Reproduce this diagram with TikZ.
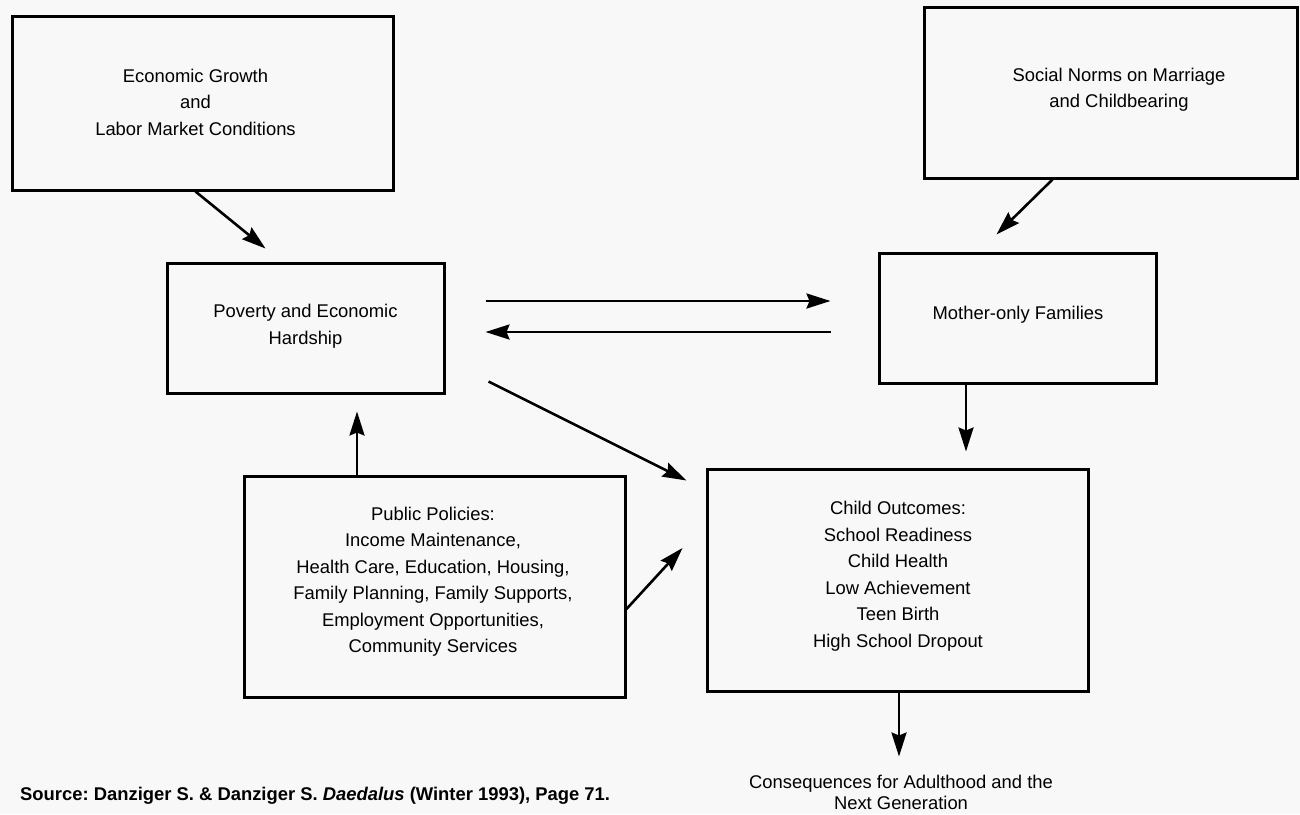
\documentclass[tikz,border=0pt]{standalone}
\usepackage{fontspec}
\setmainfont{Liberation Sans}
\usetikzlibrary{arrows.meta,calc}
\definecolor{pagebg}{RGB}{248,248,248}
\frenchspacing
\begin{document}
\begin{tikzpicture}[x=1pt,y=-1pt,
  box/.style={draw, line width=3pt, inner sep=0pt},
  txt/.style={align=center, inner sep=0pt, font=\fontsize{18.4}{26.5}\selectfont},
  arr/.style={line width=2.6pt, -{Stealth[length=24pt,width=15pt,inset=3pt]}}]
\fill[pagebg] (0,0) rectangle (1300,814);
\useasboundingbox (0,0) rectangle (1300,814);

% boxes
\node[box, minimum width=381pt, minimum height=174pt] (eg)    at (202.5,103) {};
\node[box, minimum width=277pt, minimum height=130pt] (pov)   at (305.5,328) {};
\node[box, minimum width=373pt, minimum height=171pt] (soc)   at (1110.5,92.5) {};
\node[box, minimum width=277pt, minimum height=130pt] (mom)   at (1017.5,318) {};
\node[box, minimum width=381pt, minimum height=221pt] (pol)   at (434.5,586.5) {};
\node[box, minimum width=381pt, minimum height=222pt] (child) at (897.5,580) {};

% texts
\node[txt] (egt)  at (195.5,102) {Economic Growth\\and\\Labor Market Conditions};
\node[txt] (povt) at (305.5,326) {Poverty and Economic\\Hardship};
\node[txt] (soct) at (1119,89.5) {Social Norms on Marriage\\and Childbearing};
\node[txt] (momt) at (1018,315) {Mother-only Families};
\node[txt] (polt) at (433,581.5) {Public Policies:\\Income Maintenance,\\Health Care, Education, Housing,\\Family Planning, Family Supports,\\Employment Opportunities,\\Community Services};
\node[txt] (childt) at (898,576) {Child Outcomes:\\School Readiness\\Child Health\\Low Achievement\\Teen Birth\\High School Dropout};
\node[txt, font=\fontsize{18.4}{21}\selectfont] (cons) at (901,792.5) {Consequences for Adulthood and the\\Next Generation};
\node[inner sep=0pt, anchor=base west, font=\fontsize{18.4}{22}\selectfont\bfseries] (src) at (20,800)
  {Source: Danziger S. \& Danziger S. \textit{Daedalus} (Winter 1993), Page 71.};

% connectors
\draw[arr] ($(eg.south west)+(185,0)$) -- ($(pov.north west)+(100,-13)$);
\draw[arr] ($(pov.east)+(40,-27)$) -- ($(mom.west)+(-47,-17)$);
\draw[arr] ($(mom.west)+(-47,14)$) -- ($(pov.east)+(40,4)$);
\draw[arr] ($(soc.south west)+(130,0)$) -- ($(mom.north west)+(119,-17)$);
\draw[arr] ($(mom.south)+(-51.5,0)$) -- ++(0,67);
\draw[arr] ($(pov.south east)+(43,-13)$) -- ($(child.north west)+(-19,13)$);
\draw[arr] ($(pol.north)+(-77.5,0)$) -- ++(0,-63);
\draw[arr] ($(pol.east)+(0,22.5)$) -- ($(child.west)+(-23,-32)$);
\draw[arr] ($(child.south)+(1.5,0)$) -- ++(0,64);
\end{tikzpicture}
\end{document}
